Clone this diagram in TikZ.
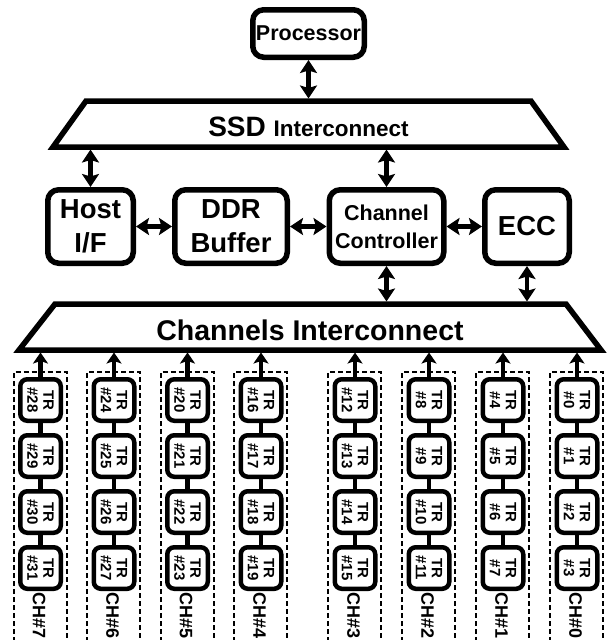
\documentclass[tikz,border=0pt]{standalone}
\usepackage{fontspec}
\setmainfont{Liberation Sans}
\usetikzlibrary{arrows.meta}
\begin{document}
\begin{tikzpicture}[x=1pt,y=-1pt,
  blk/.style={draw, line width=5.5pt, rounded corners=11pt, inner sep=0pt, align=center, fill=white},
  trbox/.style={draw, line width=4.5pt, rounded corners=7pt, minimum width=41.5pt, minimum height=40.5pt,
    inner sep=0pt, align=center, rotate=-90, fill=white, font=\fontsize{15}{16}\selectfont\bfseries},
  chlab/.style={rotate=-90, inner sep=0pt, font=\fontsize{18}{18}\selectfont\bfseries},
  tipst/.tip={Stealth[length=13pt,width=17pt,inset=2.5pt]},
  tipsm/.tip={Stealth[length=11pt,width=15pt,inset=2.5pt]},
  dbl/.style={line width=4.5pt, tipst-tipst},
  uparr/.style={line width=4.5pt, -tipsm},
  link/.style={line width=4.5pt},
  bus/.style={draw, line width=5.5pt, line join=miter},
  chbox/.style={draw, line width=2pt, dash pattern=on 5pt off 3pt},
]
\useasboundingbox (0,0) rectangle (614,640);

% trapezoid buses
\draw[bus] (86,101) -- (531,101) -- (564,147) -- (53,147) -- cycle;
\draw[bus] (55,304) -- (566,304) -- (601,350) -- (19,350) -- cycle;
\coordinate (ssdtop) at (0,98.5);
\coordinate (ssdbot) at (0,149.5);
\coordinate (chtop) at (0,301.5);
\coordinate (chbot) at (0,352.5);

\node[inner sep=0pt] (ssd) at (308.5,127) {\bfseries\fontsize{28}{28}\selectfont SSD \fontsize{22.5}{22}\selectfont Interconnect};
\node[inner sep=0pt] (chn) at (310,330) {\bfseries\fontsize{28.5}{28}\selectfont Channels Interconnect};

% blocks
\node[blk, minimum width=111.5pt, minimum height=47.5pt, font=\fontsize{21.5}{21}\selectfont\bfseries] (proc) at (308.5,33.5) {Processor};
\node[blk, minimum width=85.5pt, minimum height=73.5pt, font=\fontsize{27.5}{34}\selectfont\bfseries] (host) at (90.5,226.5) {Host\\I/F};
\node[blk, minimum width=112.5pt, minimum height=73.5pt, font=\fontsize{27.5}{34}\selectfont\bfseries] (ddr) at (231,226.5) {DDR\\Buffer};
\node[blk, minimum width=114.5pt, minimum height=73.5pt, font=\fontsize{21.5}{28}\selectfont\bfseries] (cc) at (386.5,226.5) {Channel\\Controller};
\node[blk, minimum width=84.5pt, minimum height=73.5pt, font=\fontsize{27.5}{34}\selectfont\bfseries] (ecc) at (527,226.5) {ECC};

% connectors
\draw[dbl] (proc) -- (proc |- ssdtop);
\draw[dbl] (host) -- (host |- ssdbot);
\draw[dbl] (cc) -- (cc |- ssdbot);
\draw[dbl] (host) -- (ddr);
\draw[dbl] (ddr) -- (cc);
\draw[dbl] (cc) -- (ecc);
\draw[dbl] (cc) -- (cc |- chtop);
\draw[dbl] (ecc) -- (ecc |- chtop);

% channels
\foreach \x/\ch/\b in {40.5/7/28, 114/6/24, 187.5/5/20, 261/4/16, 355/3/12, 429/2/8, 503/1/4, 577/0/0}{
  \draw[chbox] (\x-27,642) -- (\x-27,372) -- (\x+26,372) -- (\x+26,642);
  \foreach \i in {0,...,3}{
    \pgfmathtruncatemacro\n{\b+\i}
    \node[trbox] (t\n) at (\x,400+56*\i) {TR\\\#\n};
  }
  \pgfmathtruncatemacro\na{\b+1}
  \pgfmathtruncatemacro\nb{\b+2}
  \pgfmathtruncatemacro\nc{\b+3}
  \draw[link] (t\b) -- (t\na);
  \draw[link] (t\na) -- (t\nb);
  \draw[link] (t\nb) -- (t\nc);
  \draw[uparr] (t\b) -- (t\b |- chbot);
  \node[chlab] (ch\ch) at (\x-1.5,616) {CH\#\ch};
}
\end{tikzpicture}
\end{document}
